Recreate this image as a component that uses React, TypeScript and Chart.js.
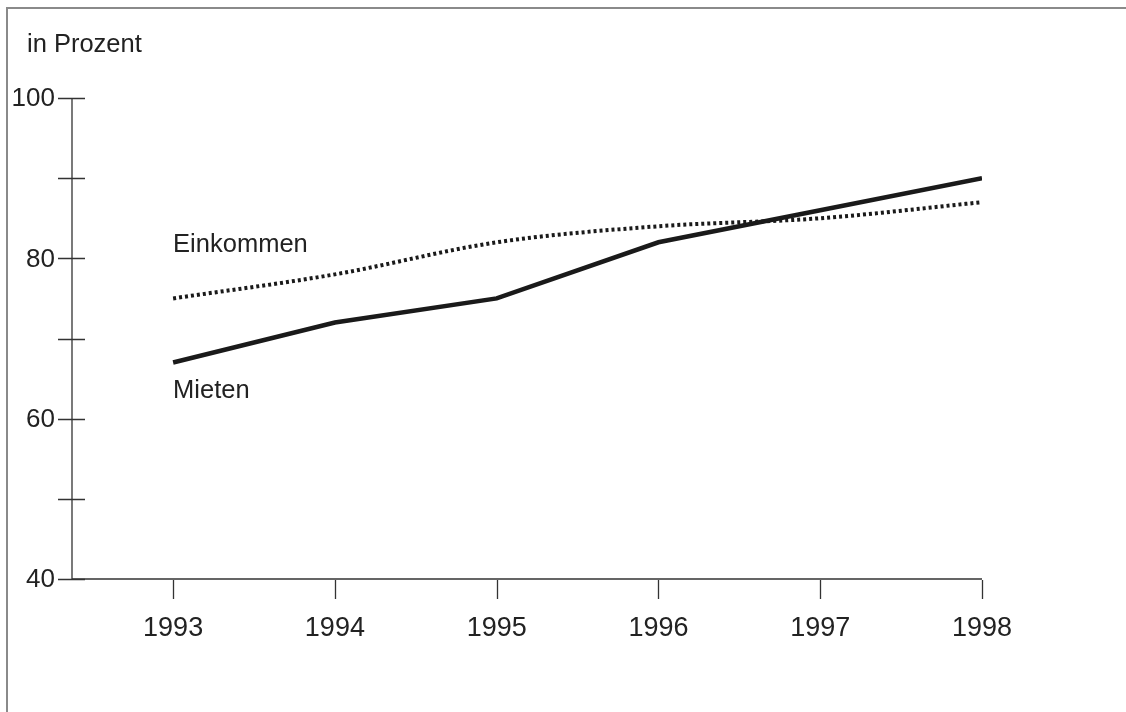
import React, { useEffect, useRef } from "react";
import { Chart, registerables } from "chart.js";

Chart.register(...registerables);

const years = [1993, 1994, 1995, 1996, 1997, 1998];
const mieten = [67, 72, 75, 82, 86, 90];
const einkommen = [75, 78, 82, 84, 85, 87];
const yTickValues = [40, 50, 60, 70, 80, 90, 100];
const yLabelValues = [40, 60, 80, 100];
const unitLabel = "in Prozent";
const seriesLabels = [
  { text: "Einkommen", x: 1993, y: 81.65 },
  { text: "Mieten", x: 1993, y: 63.45 },
];

const FONT = '"Liberation Sans", Arial, sans-serif';

const decorPlugin = {
  id: "decor",
  beforeDatasetsDraw(chart: any) {
    const ctx = chart.ctx;
    const xs = chart.scales.x;
    const ys = chart.scales.y;
    const area = chart.chartArea;
    ctx.save();
    // frame
    ctx.strokeStyle = "#8a8a8a";
    ctx.lineWidth = 2;
    ctx.beginPath();
    ctx.moveTo(7, 712);
    ctx.lineTo(7, 8);
    ctx.lineTo(1126, 8);
    ctx.stroke();
    // axes
    ctx.strokeStyle = "#333";
    ctx.lineWidth = 1.3;
    ctx.beginPath();
    ctx.moveTo(area.left, ys.getPixelForValue(100));
    ctx.lineTo(area.left, area.bottom);
    ctx.lineTo(xs.getPixelForValue(1998), area.bottom);
    ctx.stroke();
    // y ticks
    ctx.beginPath();
    for (const v of yTickValues) {
      const py = Math.round(ys.getPixelForValue(v)) + 0.5;
      ctx.moveTo(area.left - 14, py);
      ctx.lineTo(area.left + 13, py);
    }
    // x ticks
    for (const yr of years) {
      const px = Math.round(xs.getPixelForValue(yr)) + 0.5;
      ctx.moveTo(px, area.bottom + 1);
      ctx.lineTo(px, area.bottom + 20);
    }
    ctx.stroke();
    ctx.restore();
  },
  afterDraw(chart: any) {
    const ctx = chart.ctx;
    const xs = chart.scales.x;
    const ys = chart.scales.y;
    const area = chart.chartArea;
    ctx.save();
    ctx.fillStyle = "#222";
    ctx.font = `26px ${FONT}`;
    ctx.textAlign = "right";
    ctx.textBaseline = "middle";
    for (const v of yLabelValues) {
      ctx.fillText(String(v), area.left - 17, ys.getPixelForValue(v) + 1);
    }
    ctx.font = `27px ${FONT}`;
    ctx.textAlign = "center";
    for (const yr of years) {
      ctx.fillText(String(yr), xs.getPixelForValue(yr), area.bottom + 50);
    }
    ctx.font = `25.5px ${FONT}`;
    ctx.textAlign = "left";
    ctx.textBaseline = "alphabetic";
    ctx.fillText(unitLabel, 27, 52);
    ctx.textBaseline = "middle";
    for (const s of seriesLabels) {
      ctx.fillText(s.text, xs.getPixelForValue(s.x), ys.getPixelForValue(s.y));
    }
    ctx.restore();
  },
};

export default function App() {
  const ref = useRef<HTMLCanvasElement>(null);
  useEffect(() => {
    if (!ref.current) return;
    const chart = new Chart(ref.current, {
      type: "line",
      data: {
        datasets: [
          {
            label: "Einkommen",
            data: years.map((y, i) => ({ x: y, y: einkommen[i] })),
            borderColor: "#1a1a1a",
            borderWidth: 4,
            borderDash: [3, 3],
            pointRadius: 0,
            cubicInterpolationMode: "monotone",
            fill: false,
          },
          {
            label: "Mieten",
            data: years.map((y, i) => ({ x: y, y: mieten[i] })),
            borderColor: "#1a1a1a",
            borderWidth: 4.5,
            pointRadius: 0,
            tension: 0,
            fill: false,
          },
        ],
      },
      options: {
        responsive: false,
        animation: false,
        devicePixelRatio: 1,
        layout: { padding: { left: 72, top: 98, right: 144, bottom: 133 } },
        plugins: { legend: { display: false }, tooltip: { enabled: false } },
        scales: {
          x: { type: "linear", min: 1992.375, max: 1998, display: false },
          y: { type: "linear", min: 40, max: 100, display: false },
        },
      },
      plugins: [decorPlugin],
    });
    return () => chart.destroy();
  }, []);
  return (
    <div style={{ position: "absolute", left: 0, top: 0, width: 1126, height: 712, background: "#fff" }}>
      <canvas ref={ref} width={1126} height={712} style={{ display: "block" }} />
    </div>
  );
}
